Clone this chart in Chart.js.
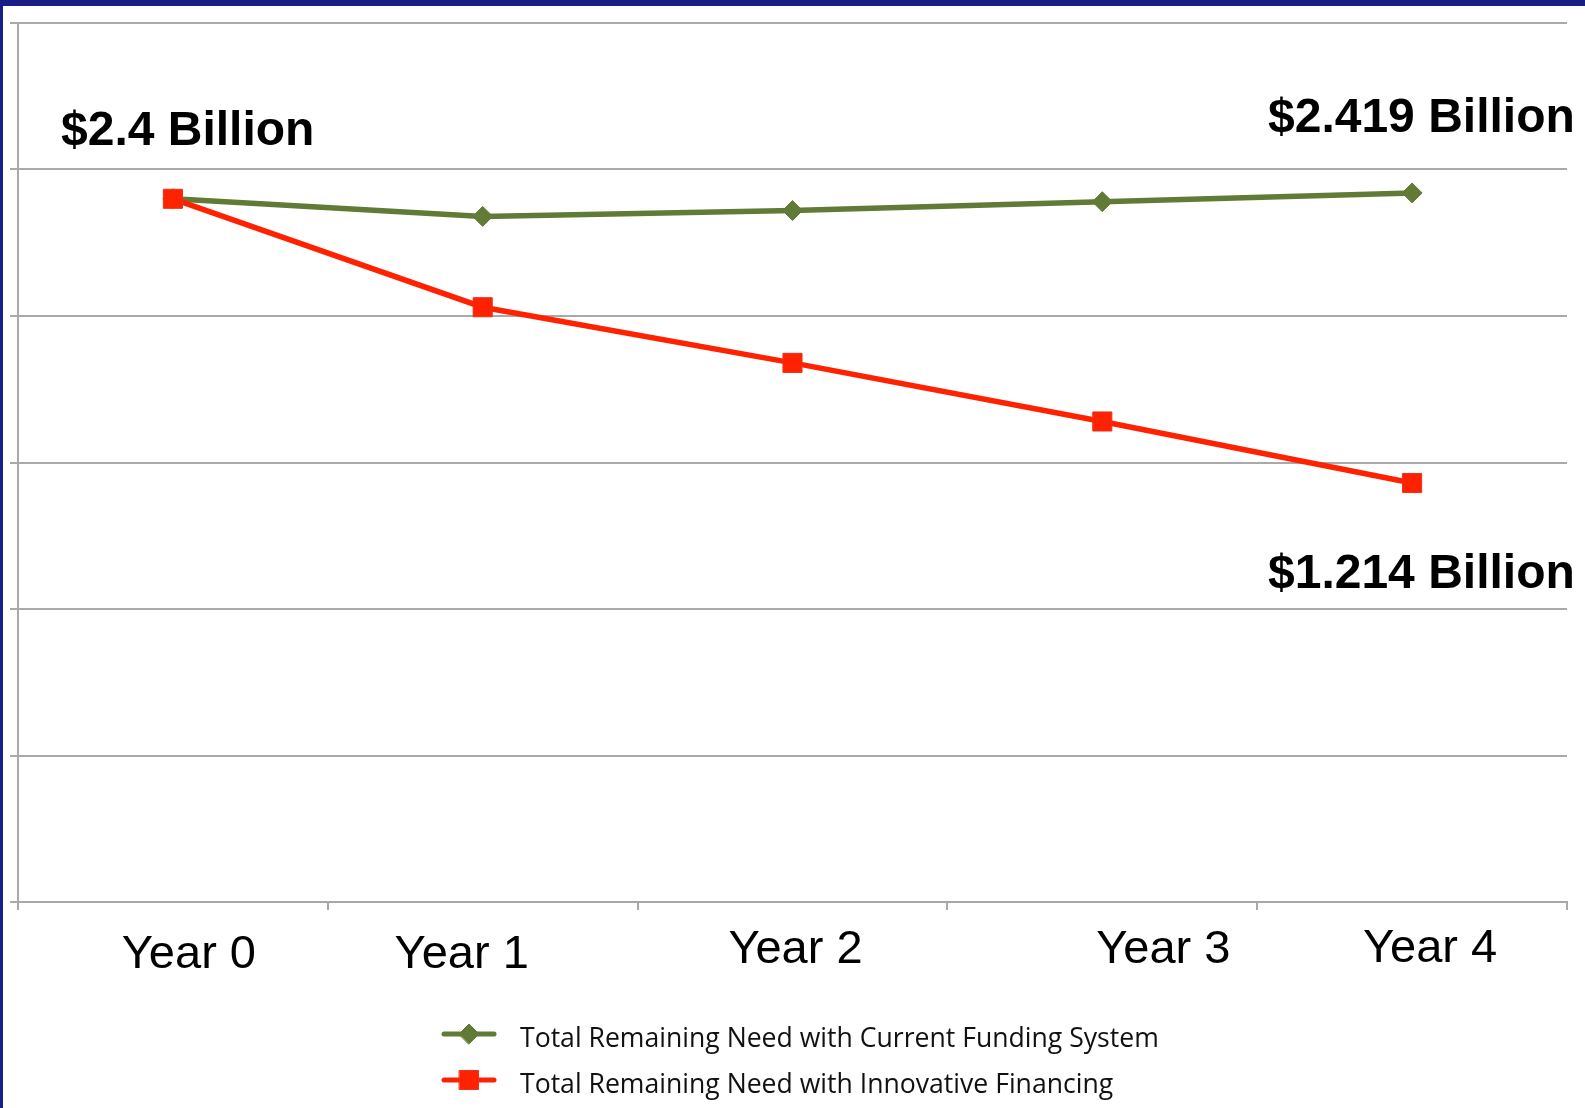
<!DOCTYPE html>
<html>
<head>
<meta charset="utf-8">
<script src="https://cdn.jsdelivr.net/npm/chart.js@4.4.1/dist/chart.umd.min.js"></script>
<style>
  html, body { margin: 0; padding: 0; background: #fff; overflow: hidden; }
  #wrap { position: relative; width: 1585px; height: 1108px; }
  #frameTop { position: absolute; left: 0; top: 0; width: 1585px; height: 6px; background: #191e87; }
  #frameLeft { position: absolute; left: 0; top: 0; width: 3px; height: 1108px; background: #191e87; }
</style>
</head>
<body>
<div id="wrap">
  <canvas id="chart-need"></canvas>
  <div id="frameTop"></div>
  <div id="frameLeft"></div>
</div>
<script>
// categories and values (billions of dollars)
const years = ['Year 0', 'Year 1', 'Year 2', 'Year 3', 'Year 4'];
const currentFunding = [2.40, 2.34, 2.36, 2.39, 2.42];
const innovativeFinancing = [2.40, 2.03, 1.84, 1.64, 1.43];
const seriesNames = [
    'Total Remaining Need with Current Funding System',
    'Total Remaining Need with Innovative Financing',
];
const callouts = ['$2.4 Billion', '$2.419 Billion', '$1.214 Billion'];

const GRID = '#a9a9a9';
const GREEN = '#617b36';
const RED = '#ff2200';

// hand-placed text boxes of the original slide
const calloutPos = [[61, 145], [1268, 132], [1268, 588]];
const yearShift = [[16, 968], [-21, 968], [3, 963], [61, 963], [18, 962]];

const overlayText = {
    id: 'overlayText',
    afterDraw(chart) {
        const { ctx, scales } = chart;
        ctx.save();
        ctx.fillStyle = '#000';
        ctx.textBaseline = 'alphabetic';

        // callouts
        ctx.font = 'bold 48px "Liberation Sans", Arial, sans-serif';
        ctx.textAlign = 'left';
        callouts.forEach((t, i) => ctx.fillText(t, calloutPos[i][0], calloutPos[i][1]));

        // category labels
        ctx.font = '47px "Liberation Sans", Arial, sans-serif';
        ctx.textAlign = 'center';
        years.forEach((y, i) => {
            const x = scales.x.getPixelForValue(i) + yearShift[i][0];
            ctx.fillText(y, x, yearShift[i][1]);
        });

        // legend
        const rows = [1034, 1080];
        ctx.font = '26.6px "Open Sans", "Noto Sans", sans-serif';
        ctx.textAlign = 'left';
        ctx.textBaseline = 'middle';
        chart.data.datasets.forEach((ds, i) => {
            const y = rows[i];
            ctx.strokeStyle = ds.borderColor;
            ctx.lineWidth = 5;
            ctx.lineCap = 'round';
            ctx.beginPath();
            ctx.moveTo(444, y);
            ctx.lineTo(494, y);
            ctx.stroke();
            ctx.fillStyle = ds.pointBackgroundColor;
            ctx.strokeStyle = ds.pointBorderColor;
            ctx.lineWidth = 1;
            Chart.helpers.drawPoint(ctx, { pointStyle: ds.pointStyle, radius: ds.pointRadius, borderWidth: 1 }, 469, y);
            ctx.fillStyle = '#111';
            ctx.fillText(ds.label, 520, y + 5);
        });
        ctx.restore();
    },
};

new Chart(document.getElementById('chart-need'), {
    type: 'line',
    data: {
        labels: years,
        datasets: [
            {
                label: seriesNames[0],
                data: currentFunding,
                borderColor: GREEN,
                backgroundColor: GREEN,
                borderWidth: 5.5,
                pointStyle: 'rectRot',
                pointRadius: 10,
                pointHoverRadius: 10,
                pointBackgroundColor: GREEN,
                pointBorderColor: GREEN,
                pointBorderWidth: 1,
                tension: 0,
                order: 1,
            },
            {
                label: seriesNames[1],
                data: innovativeFinancing,
                borderColor: RED,
                backgroundColor: RED,
                borderWidth: 5.5,
                pointStyle: 'rect',
                pointRadius: 13.5,
                pointHoverRadius: 13.5,
                pointBackgroundColor: RED,
                pointBorderColor: '#e8341c',
                pointBorderWidth: 1,
                tension: 0,
                order: 0,
            },
        ],
    },
    options: {
        responsive: true,
        maintainAspectRatio: false,
        animation: false,
        events: [],
        layout: { padding: { left: 10, right: 18, top: 23, bottom: 198 } },
        plugins: {
            legend: { display: false },
            tooltip: { enabled: false },
        },
        scales: {
            x: {
                offset: true,
                grid: {
                    offset: true,
                    drawOnChartArea: false,
                    drawTicks: true,
                    tickLength: 8,
                    color: GRID,
                    lineWidth: 2,
                },
                border: { display: true, color: GRID, width: 2 },
                ticks: { display: false },
            },
            y: {
                min: 0,
                max: 3,
                grid: {
                    color: GRID,
                    lineWidth: 2,
                    drawTicks: true,
                    tickLength: 8,
                },
                border: { display: true, color: GRID, width: 2 },
                ticks: { display: false, stepSize: 0.5 },
            },
        },
    },
    plugins: [overlayText],
});
</script>
</body>
</html>
